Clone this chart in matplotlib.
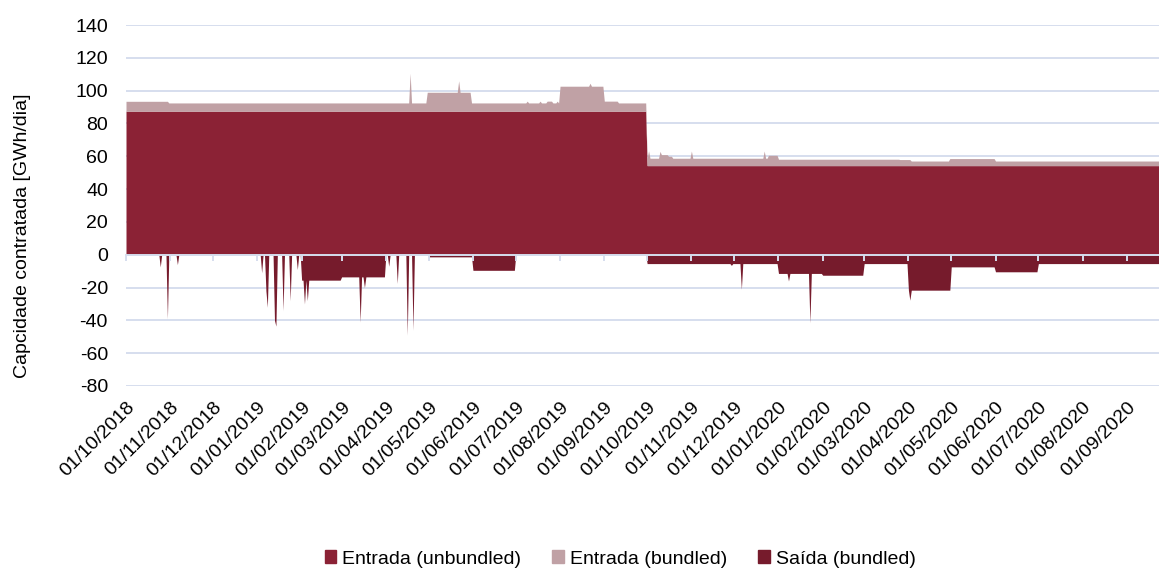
import numpy as np
import pandas as pd
import matplotlib
matplotlib.use("Agg")
import matplotlib.pyplot as plt
import matplotlib.dates as mdates
from matplotlib.patches import Patch

plt.rcParams["font.family"] = ["Liberation Sans", "DejaVu Sans"]
plt.rcParams["axes.unicode_minus"] = False

dias = pd.date_range("2018-10-01", "2020-09-30", freq="D")

# patamares: (data de inicio, valor) que se mantem ate a data seguinte
unb_datas = ["2018-10-01", "2019-10-01"]
unb_valores = [87.5, 54.3]

bun_datas = ["2018-10-01", "2018-10-31", "2019-04-30", "2019-05-31", "2019-07-09", "2019-07-10",
             "2019-07-18", "2019-07-19", "2019-07-23", "2019-07-27", "2019-07-30", "2019-07-31",
             "2019-08-01", "2019-09-01", "2019-09-11", "2019-10-01", "2019-10-11", "2019-10-16",
             "2019-10-19", "2019-12-25", "2020-01-01", "2020-03-26", "2020-04-03", "2020-04-30",
             "2020-06-01"]
bun_valores = [6.0, 5.0, 11.5, 5.0, 6.1, 5.0,
               6.1, 5.0, 6.1, 5.0, 6.1, 5.0,
               15.2, 6.1, 5.0, 4.5, 6.7, 5.7,
               4.5, 6.3, 3.9, 3.7, 2.8, 4.3,
               2.8]
# picos de um dia
bun_picos_datas = ["2019-04-18", "2019-05-22", "2019-08-22", "2019-10-02", "2019-10-10",
                   "2019-11-01", "2019-12-22"]
bun_picos_valores = [23.1, 18.5, 17.0, 9.0, 8.7, 8.9, 8.9]

sai_datas = ["2018-10-01", "2019-02-01", "2019-03-01", "2019-04-01", "2019-05-01", "2019-06-01",
             "2019-07-01", "2019-10-01", "2020-01-01", "2020-02-01", "2020-03-01", "2020-04-01",
             "2020-05-01", "2020-06-01", "2020-07-01"]
sai_valores = [0, -15.5, -13.5, 0, -1.3, -9.5,
               0, -5.4, -11.4, -12.5, -5.4, -21.6,
               -7.4, -10.4, -5.4]
sai_picos_datas = ["2018-10-25", "2018-10-30", "2018-11-06", "2019-01-04", "2019-01-07",
                   "2019-01-08", "2019-01-13", "2019-01-14", "2019-01-19", "2019-01-24",
                   "2019-01-29", "2019-02-03", "2019-02-05", "2019-03-14", "2019-03-17",
                   "2019-04-03", "2019-04-09", "2019-04-16", "2019-04-20", "2019-11-29",
                   "2019-12-06", "2020-01-08", "2020-01-23", "2020-04-02"]
sai_picos_valores = [-7.4, -39, -6, -11, -22,
                     -32, -40, -43.5, -34, -28,
                     -9, -30, -28, -41, -20,
                     -7, -17.5, -49, -46, -6.5,
                     -21, -16, -41.5, -27.7]


def serie(datas, valores, picos_datas=(), picos_valores=()):
    s = pd.Series(np.nan, index=dias)
    s[pd.to_datetime(datas)] = valores
    s = s.ffill()
    if len(picos_datas):
        s[pd.to_datetime(picos_datas)] = picos_valores
    return s


unb = serie(unb_datas, unb_valores)
bun = serie(bun_datas, bun_valores, bun_picos_datas, bun_picos_valores)
sai = serie(sai_datas, sai_valores, sai_picos_datas, sai_picos_valores)

cor_unb = "#8B2235"
cor_bun = "#C0A1A5"
cor_sai = "#761B2C"
cor_grelha = "#D6DEEE"

fig = plt.figure(figsize=(11.59, 5.69), dpi=100)
ax = fig.add_axes([126 / 1159, 1 - 386 / 569, 1 - 126 / 1159, (386 - 25) / 569])

ax.fill_between(dias, 0, unb, color=cor_unb, lw=0, zorder=2)
ax.fill_between(dias, unb, unb + bun, color=cor_bun, lw=0, zorder=2)
ax.fill_between(dias, 0, sai, color=cor_sai, lw=0, zorder=2)

ymin, ymax = -80, 140
ax.set_ylim(ymin, ymax)
ax.set_yticks(np.arange(ymin, ymax + 1, 20))
ax.set_xlim(pd.Timestamp("2018-10-01"), pd.Timestamp("2020-09-23 12:00"))
ax.grid(axis="y", color=cor_grelha, lw=1.4)
ax.set_axisbelow(True)
for sp in ax.spines.values():
    sp.set_visible(False)

ax.xaxis.set_major_locator(mdates.MonthLocator())
ax.xaxis.set_major_formatter(mdates.DateFormatter("%d/%m/%Y"))
ax.tick_params(axis="both", length=0, labelsize=14)
ax.tick_params(axis="y", pad=13)
ax.tick_params(axis="x", pad=9)
for lbl in ax.get_xticklabels():
    lbl.set_rotation(45)
    lbl.set_ha("right")
    lbl.set_va("top")
    lbl.set_rotation_mode("anchor")

# eixo no zero com as marcas mensais
eixo0 = ax.secondary_xaxis((0 - ymin) / (ymax - ymin))
eixo0.xaxis.set_major_locator(mdates.MonthLocator())
eixo0.tick_params(axis="x", direction="out", length=4, width=1.4, color=cor_grelha,
                  labelbottom=False)
eixo0.spines["bottom"].set_color(cor_grelha)
eixo0.spines["bottom"].set_linewidth(1.4)
eixo0.set_zorder(5)

ax.set_ylabel("Capcidade contratada [GWh/dia]", fontsize=14)
ax.yaxis.set_label_coords(-0.092, 0.415)

handles = [Patch(color=cor_unb, label="Entrada (unbundled)"),
           Patch(color=cor_bun, label="Entrada (bundled)"),
           Patch(color=cor_sai, label="Saída (bundled)")]
fig.legend(handles=handles, loc="center", bbox_to_anchor=(620 / 1159, 1 - 559 / 569),
           ncol=3, frameon=False, fontsize=14, handlelength=0.6, handleheight=0.6,
           handletextpad=0.3, columnspacing=1.6)

fig.savefig("out.png", dpi=100)
